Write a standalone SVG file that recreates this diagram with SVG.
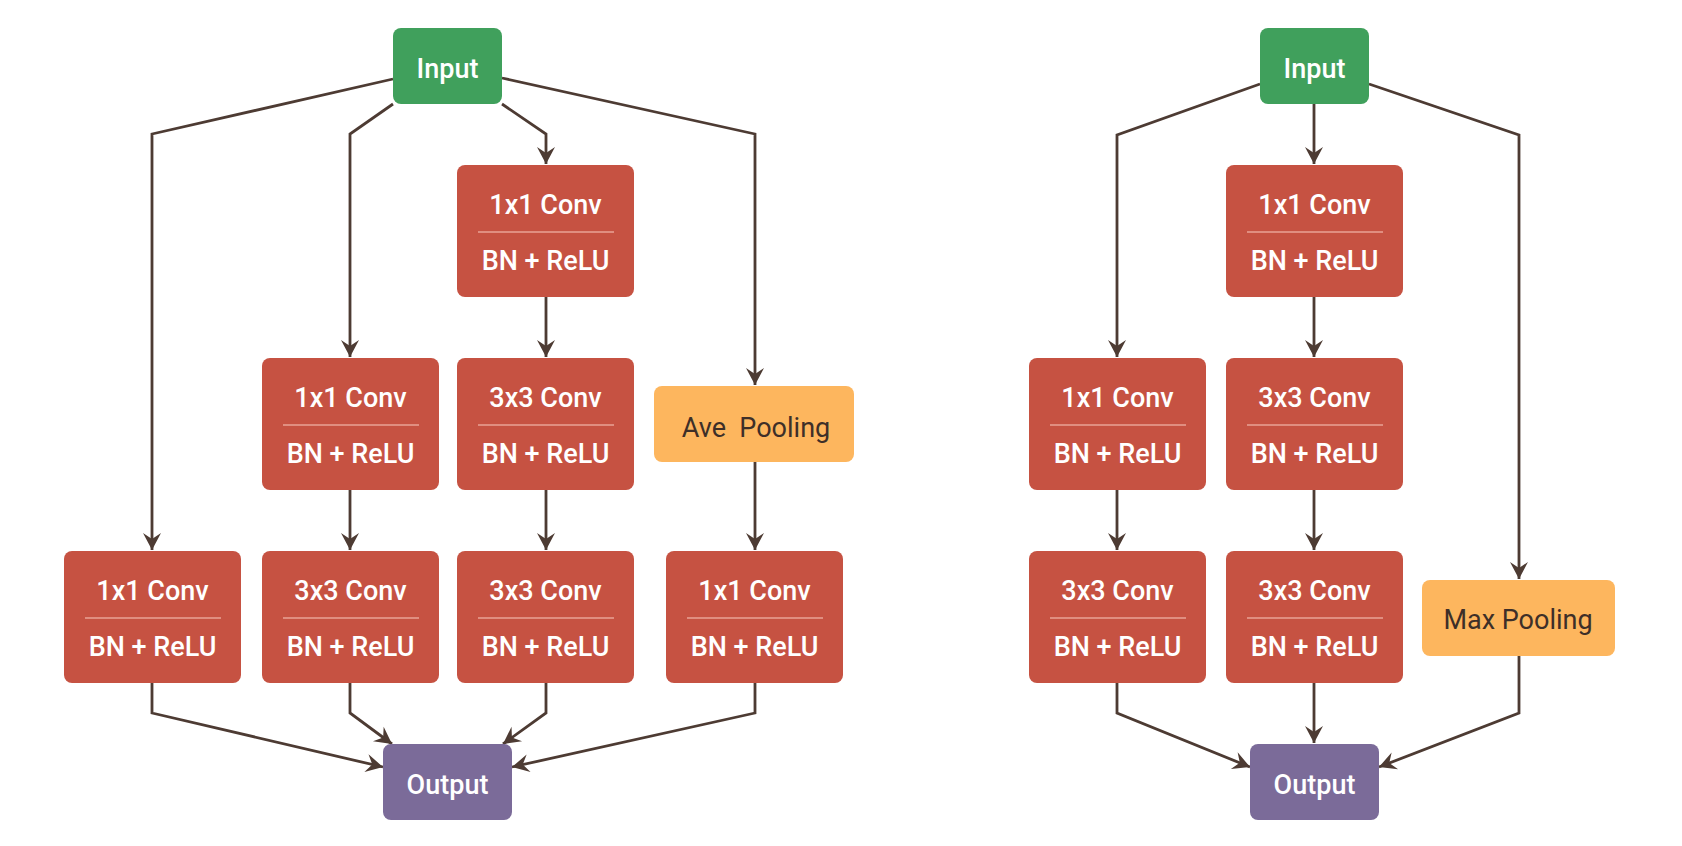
<svg xmlns="http://www.w3.org/2000/svg" width="1682" height="846" viewBox="0 0 1682 846">
<style>
.conv{fill:#c65242;}
.inp{fill:#40a05c;}
.out{fill:#7b6b99;}
.pool{fill:#fdb65e;}
.div{stroke:#e9a396;stroke-width:1.5;}
.t{font-family:Roboto,"Liberation Sans",sans-serif;font-size:27px;font-weight:500;fill:#ffffff;text-anchor:middle;}
.tp{font-family:Roboto,"Liberation Sans",sans-serif;font-size:27px;fill:#3e2f28;text-anchor:middle;}
.c{fill:none;stroke:#4d3b33;stroke-width:2.8;marker-end:url(#ah);}
</style>
<defs>
<marker id="ah" markerUnits="userSpaceOnUse" markerWidth="24" markerHeight="24" viewBox="-20 -12 24 24" refX="0" refY="0" orient="auto">
<path d="M-17,-9 L0,0 L-17,9 L-11,0 z" fill="#4d3b33"/>
</marker>
</defs>
<rect width="1682" height="846" fill="#ffffff"/>
<g id="connectors">
<path class="c" d="M393,79 L152,134 L152,550"/>
<path class="c" d="M393,104 L350,134 L350,357"/>
<path class="c" d="M502,104 L546,134 L546,164"/>
<path class="c" d="M502,78 L755,134 L755,385"/>
<path class="c" d="M546,297 L546,357"/>
<path class="c" d="M350,490 L350,550"/>
<path class="c" d="M546,490 L546,550"/>
<path class="c" d="M755,462 L755,550"/>
<path class="c" d="M152,683 L152,713 L383,767"/>
<path class="c" d="M350,683 L350,713 L392,744"/>
<path class="c" d="M546,683 L546,713 L503,744"/>
<path class="c" d="M755,683 L755,713 L512,767"/>
<path class="c" d="M1260,84 L1117,135 L1117,357"/>
<path class="c" d="M1369,84 L1519,135 L1519,579"/>
<path class="c" d="M1314,104 L1314,164"/>
<path class="c" d="M1314,297 L1314,357"/>
<path class="c" d="M1117,490 L1117,550"/>
<path class="c" d="M1314,490 L1314,550"/>
<path class="c" d="M1314,683 L1314,743"/>
<path class="c" d="M1117,683 L1117,713 L1250,767"/>
<path class="c" d="M1519,656 L1519,713 L1379,767"/>
</g>
<g id="input-left"><rect class="inp" x="393" y="28" width="109" height="76" rx="8"/><text class="t" x="447.5" y="78">Input</text></g>
<g id="output-left"><rect class="out" x="383" y="744" width="129" height="76" rx="8"/><text class="t" x="447.5" y="794">Output</text></g>
<g id="l-c3r1"><rect class="conv" x="457" y="165" width="177" height="132" rx="8"/><line class="div" x1="478" y1="232" x2="614" y2="232"/><text class="t" x="545.5" y="214">1x1 Conv</text><text class="t" x="545.5" y="270">BN + ReLU</text></g>
<g id="l-c2r2"><rect class="conv" x="262" y="358" width="177" height="132" rx="8"/><line class="div" x1="283" y1="425" x2="419" y2="425"/><text class="t" x="350.5" y="407">1x1 Conv</text><text class="t" x="350.5" y="463">BN + ReLU</text></g>
<g id="l-c3r2"><rect class="conv" x="457" y="358" width="177" height="132" rx="8"/><line class="div" x1="478" y1="425" x2="614" y2="425"/><text class="t" x="545.5" y="407">3x3 Conv</text><text class="t" x="545.5" y="463">BN + ReLU</text></g>
<g id="l-avepool"><rect class="pool" x="654" y="386" width="200" height="76" rx="8"/><text class="tp" x="756" y="437" xml:space="preserve">Ave  Pooling</text></g>
<g id="l-c1r3"><rect class="conv" x="64" y="551" width="177" height="132" rx="8"/><line class="div" x1="85" y1="618" x2="221" y2="618"/><text class="t" x="152.5" y="600">1x1 Conv</text><text class="t" x="152.5" y="656">BN + ReLU</text></g>
<g id="l-c2r3"><rect class="conv" x="262" y="551" width="177" height="132" rx="8"/><line class="div" x1="283" y1="618" x2="419" y2="618"/><text class="t" x="350.5" y="600">3x3 Conv</text><text class="t" x="350.5" y="656">BN + ReLU</text></g>
<g id="l-c3r3"><rect class="conv" x="457" y="551" width="177" height="132" rx="8"/><line class="div" x1="478" y1="618" x2="614" y2="618"/><text class="t" x="545.5" y="600">3x3 Conv</text><text class="t" x="545.5" y="656">BN + ReLU</text></g>
<g id="l-c4r3"><rect class="conv" x="666" y="551" width="177" height="132" rx="8"/><line class="div" x1="687" y1="618" x2="823" y2="618"/><text class="t" x="754.5" y="600">1x1 Conv</text><text class="t" x="754.5" y="656">BN + ReLU</text></g>
<g id="input-right"><rect class="inp" x="1260" y="28" width="109" height="76" rx="8"/><text class="t" x="1314.5" y="78">Input</text></g>
<g id="output-right"><rect class="out" x="1250" y="744" width="129" height="76" rx="8"/><text class="t" x="1314.5" y="794">Output</text></g>
<g id="r-c2r1"><rect class="conv" x="1226" y="165" width="177" height="132" rx="8"/><line class="div" x1="1247" y1="232" x2="1383" y2="232"/><text class="t" x="1314.5" y="214">1x1 Conv</text><text class="t" x="1314.5" y="270">BN + ReLU</text></g>
<g id="r-c1r2"><rect class="conv" x="1029" y="358" width="177" height="132" rx="8"/><line class="div" x1="1050" y1="425" x2="1186" y2="425"/><text class="t" x="1117.5" y="407">1x1 Conv</text><text class="t" x="1117.5" y="463">BN + ReLU</text></g>
<g id="r-c2r2"><rect class="conv" x="1226" y="358" width="177" height="132" rx="8"/><line class="div" x1="1247" y1="425" x2="1383" y2="425"/><text class="t" x="1314.5" y="407">3x3 Conv</text><text class="t" x="1314.5" y="463">BN + ReLU</text></g>
<g id="r-c1r3"><rect class="conv" x="1029" y="551" width="177" height="132" rx="8"/><line class="div" x1="1050" y1="618" x2="1186" y2="618"/><text class="t" x="1117.5" y="600">3x3 Conv</text><text class="t" x="1117.5" y="656">BN + ReLU</text></g>
<g id="r-c2r3"><rect class="conv" x="1226" y="551" width="177" height="132" rx="8"/><line class="div" x1="1247" y1="618" x2="1383" y2="618"/><text class="t" x="1314.5" y="600">3x3 Conv</text><text class="t" x="1314.5" y="656">BN + ReLU</text></g>
<g id="r-maxpool"><rect class="pool" x="1422" y="580" width="193" height="76" rx="8"/><text class="tp" x="1518" y="629">Max Pooling</text></g>
</svg>
